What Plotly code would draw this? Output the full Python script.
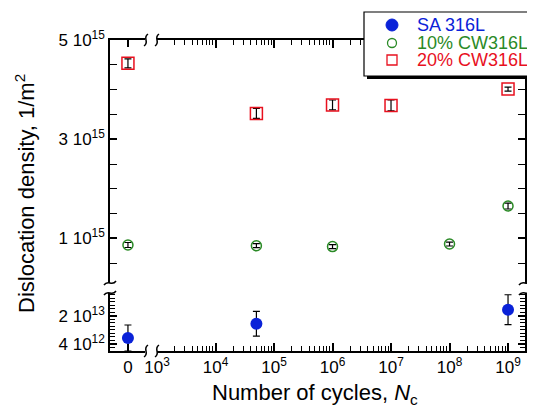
import plotly.graph_objects as go

# ---------------- data ----------------
cycles_sa = [0, 5e4, 1e9]
rho_sa = [7.4e12, 1.55e13, 2.35e13]
err_sa = [7.4e12, 7.0e12, 8.5e12]

cycles_cw10 = [0, 5e4, 1e6, 1e8, 1e9]
rho_cw10 = [0.867e15, 0.853e15, 0.835e15, 0.887e15, 1.653e15]
err_cw10 = [0.05e15, 0.04e15, 0.04e15, 0.04e15, 0.06e15]

cycles_cw20 = [0, 5e4, 1e6, 1e7, 1e9]
rho_cw20 = [4.53e15, 3.52e15, 3.69e15, 3.68e15, 4.01e15]
err_cw20 = [0.09e15, 0.10e15, 0.10e15, 0.11e15, 0.04e15]

series_names = ["SA 316L", "10% CW316L", "20% CW316L"]

upper_tickvals = [1e15, 3e15, 5e15]
upper_ticktext = ["1 10<sup>15</sup>", "3 10<sup>15</sup>", "5 10<sup>15</sup>"]
lower_tickvals = [4e12, 2e13]
lower_ticktext = ["4 10<sup>12</sup>", "2 10<sup>13</sup>"]
zero_tickvals = [0]
zero_ticktext = ["0"]
log_tickvals = [1e3, 1e4, 1e5, 1e6, 1e7, 1e8, 1e9]
log_ticktext = ["10<sup>3</sup>", "10<sup>4</sup>", "10<sup>5</sup>", "10<sup>6</sup>",
                "10<sup>7</sup>", "10<sup>8</sup>", "10<sup>9</sup>"]

# ---------------- styling ----------------
FONT = "Liberation Sans, Arial, Helvetica, sans-serif"
BLUE = "#0a22d8"
GREEN = "#2a8a26"
RED = "#e8101e"
TICK = "black"

# the page body adds an 8 px offset; the figure is sized so that the
# 535x408 window is filled exactly
FW, FH = 527, 400
SL, SR, ST, SB = 110, 525, 40, 351   # plot area on screen
PW, PH = SR - SL, SB - ST
OFF = 8
L, T = SL - OFF, ST - OFF
R, B = FW - (SR - OFF), FH - (SB - OFF)


def fx(px):
    return (px - SL) / PW


def fy(py):
    return (SB - py) / PH


xL = [0, fx(145)]
xR = [fx(157), 1]
yU = [fy(283), 1]
yD = [0, fy(293)]

fig = go.Figure()


def add_series(xs, ys, es, name, marker, upper):
    for zero in (True, False):
        idx = [i for i, v in enumerate(xs) if (v == 0) == zero]
        if not idx:
            continue
        if upper:
            xa_use = "x3" if zero else "x4"
            ya_use = "y3" if zero else "y4"
        else:
            xa_use = "x" if zero else "x2"
            ya_use = "y" if zero else "y2"
        fig.add_trace(go.Scatter(
            x=[xs[i] for i in idx], y=[ys[i] for i in idx],
            error_y=dict(type="data", array=[es[i] for i in idx], color="black",
                         thickness=1.2, width=3.5),
            mode="markers", marker=marker, name=name,
            legendgroup=name, showlegend=False,
            xaxis=xa_use, yaxis=ya_use,
        ))


add_series(cycles_sa, rho_sa, err_sa, series_names[0],
           dict(symbol="circle", size=12, color=BLUE), False)
add_series(cycles_cw10, rho_cw10, err_cw10, series_names[1],
           dict(symbol="circle-open", size=10, color=GREEN, line=dict(width=1.5, color=GREEN)), True)
add_series(cycles_cw20, rho_cw20, err_cw20, series_names[2],
           dict(symbol="square-open", size=12, color=RED, line=dict(width=1.5, color=RED)), True)

axis_common = dict(showline=True, linecolor="black", linewidth=1.5, ticks="inside",
                   tickcolor=TICK, tickwidth=1.5, showgrid=False, zeroline=False,
                   tickfont=dict(family=FONT, size=17, color="black"))

log_minor = [k * 10 ** e for e in range(3, 9) for k in range(2, 10)]
upper_minor = [0.5e15 * k for k in range(1, 11)]
lower_minor = [2e12 * k for k in range(0, 17)]

minor_log = dict(tickmode="array", tickvals=log_minor, ticks="inside", ticklen=5,
                 tickcolor=TICK, tickwidth=1.3)
minor_up = dict(tickmode="array", tickvals=upper_minor, ticks="inside", ticklen=7,
                tickcolor=TICK, tickwidth=1.4)
minor_low = dict(tickmode="array", tickvals=lower_minor, ticks="inside", ticklen=5,
                 tickcolor=TICK, tickwidth=1.1)

fig.update_layout(
    width=FW, height=FH,
    margin=dict(l=L, r=R, t=T, b=B, autoexpand=False),
    paper_bgcolor="white", plot_bgcolor="white",
    showlegend=False,
    # bottom-left: x = 0 section, lower density section
    xaxis=dict(domain=xL, anchor="y", range=[-1, 0.95], tickvals=zero_tickvals,
               ticktext=zero_ticktext, ticklen=7, **axis_common),
    yaxis=dict(domain=yD, anchor="x", range=[0, 3.3e13], tickvals=lower_tickvals,
               ticktext=lower_ticktext, ticklen=7, minor=minor_low, **axis_common),
    # bottom-right: log cycles, lower density section
    xaxis2=dict(domain=xR, anchor="y2", type="log", range=[3.0, 9.29],
                tickvals=log_tickvals, ticktext=log_ticktext, ticklen=8,
                minor=minor_log, **axis_common),
    yaxis2=dict(domain=yD, anchor="x2", side="right", range=[0, 3.3e13],
                tickvals=lower_tickvals, showticklabels=False, ticklen=7,
                minor=minor_low, **axis_common),
    # top-left
    xaxis3=dict(domain=xL, anchor="y3", side="top", range=[-1, 0.95],
                tickvals=zero_tickvals, showticklabels=False, ticklen=7, **axis_common),
    yaxis3=dict(domain=yU, anchor="x3", range=[0.101e15, 5e15], tickvals=upper_tickvals,
                ticktext=upper_ticktext, ticklen=7, minor=minor_up, **axis_common),
    # top-right
    xaxis4=dict(domain=xR, anchor="y4", side="top", type="log", range=[3.0, 9.29],
                tickvals=log_tickvals, showticklabels=False, ticklen=8,
                minor=minor_log, **axis_common),
    yaxis4=dict(domain=yU, anchor="x4", side="right", range=[0.101e15, 5e15],
                tickvals=upper_tickvals, showticklabels=False, ticklen=7,
                minor=minor_up, **axis_common),
)

# axis titles
fig.add_annotation(text="Dislocation density, 1/m<sup>2</sup>", textangle=-90,
                   x=fx(25), y=fy(194), xref="paper", yref="paper", showarrow=False,
                   xanchor="center", yanchor="middle",
                   font=dict(family=FONT, size=22, color="black"))
fig.add_annotation(text="Number of cycles, <i>N</i><sub>c</sub>",
                   x=fx(315), y=fy(394), xref="paper", yref="paper", showarrow=False,
                   xanchor="center", yanchor="middle",
                   font=dict(family=FONT, size=22, color="black"))

# ---------------- legend box (shadow, frame, keys, labels) ----------------
fig.add_shape(type="rect", xref="paper", yref="paper",
              x0=fx(367), x1=fx(531), y0=fy(79), y1=fy(15),
              fillcolor="black", line=dict(width=0), layer="above")
fig.add_shape(type="rect", xref="paper", yref="paper",
              x0=fx(364), x1=fx(528), y0=fy(76), y1=fy(12),
              fillcolor="white", line=dict(color="black", width=1.2), layer="above")
legend_rows = [25, 43, 60]
legend_colors = [BLUE, GREEN, RED]
fig.add_shape(type="circle", xref="paper", yref="paper",
              x0=fx(386), x1=fx(398), y0=fy(31), y1=fy(19),
              fillcolor=BLUE, line=dict(color=BLUE, width=1), layer="above")
fig.add_shape(type="circle", xref="paper", yref="paper",
              x0=fx(387.5), x1=fx(396.5), y0=fy(47.5), y1=fy(38.5),
              fillcolor="white", line=dict(color=GREEN, width=1.3), layer="above")
fig.add_shape(type="rect", xref="paper", yref="paper",
              x0=fx(387), x1=fx(397), y0=fy(65), y1=fy(55),
              fillcolor="white", line=dict(color=RED, width=1.3), layer="above")
for name, col, row in zip(series_names, legend_colors, legend_rows):
    fig.add_annotation(text=name, x=fx(415), y=fy(row), xref="paper", yref="paper",
                       xanchor="left", yanchor="middle", showarrow=False,
                       font=dict(family=FONT, size=18, color=col))


# ---------------- axis break marks ----------------
def vsquig(cx, cy):
    p = [(cx - 2, cy + 6), (cx + 4, cy + 2), (cx - 4, cy - 2), (cx + 2, cy - 6)]
    q = [(fx(a), fy(b)) for a, b in p]
    return f"M {q[0][0]},{q[0][1]} C {q[1][0]},{q[1][1]} {q[2][0]},{q[2][1]} {q[3][0]},{q[3][1]}"


def hsquig(cx, cy):
    p = [(cx - 6, cy + 2), (cx - 2, cy - 4), (cx + 2, cy + 4), (cx + 6, cy - 2)]
    q = [(fx(a), fy(b)) for a, b in p]
    return f"M {q[0][0]},{q[0][1]} C {q[1][0]},{q[1][1]} {q[2][0]},{q[2][1]} {q[3][0]},{q[3][1]}"


for cx in (146, 157):
    for cy in (ST, SB):
        fig.add_shape(type="path", xref="paper", yref="paper", path=vsquig(cx, cy),
                      line=dict(color="black", width=1.5))
for cy in (283, 293):
    for cx in (SL, SR):
        fig.add_shape(type="path", xref="paper", yref="paper", path=hsquig(cx, cy),
                      line=dict(color="black", width=1.5))

fig.write_html("out.html")
